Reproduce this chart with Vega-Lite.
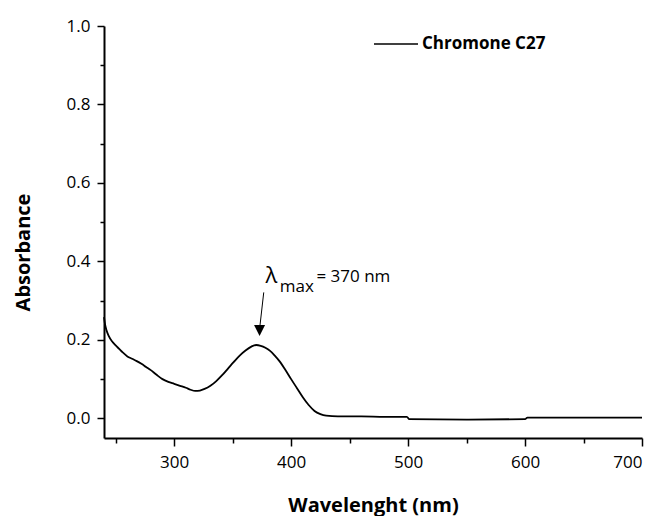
{
  "$schema": "https://vega.github.io/schema/vega-lite/v6.json",
  "width": 538,
  "height": 412,
  "autosize": "none",
  "padding": {"left": 104, "top": 26, "right": 18, "bottom": 78},
  "background": "white",
  "config": {
    "view": {"stroke": null},
    "font": "Open Sans",
    "axis": {
      "grid": false,
      "domainColor": "black",
      "domainWidth": 2,
      "tickColor": "black",
      "tickWidth": 1.5,
      "labelColor": "black",
      "titleColor": "black",
      "labelFont": "Open Sans",
      "titleFont": "Open Sans",
      "labelFontSize": 17,
      "titleFontSize": 20,
      "titleFontWeight": "bold"
    }
  },
  "datasets": {
    "spectrum": [
      {"wavelength": 240, "absorbance": 0.258},
      {"wavelength": 241, "absorbance": 0.238},
      {"wavelength": 242, "absorbance": 0.226},
      {"wavelength": 244, "absorbance": 0.21},
      {"wavelength": 247, "absorbance": 0.196},
      {"wavelength": 250, "absorbance": 0.186},
      {"wavelength": 253, "absorbance": 0.177},
      {"wavelength": 256, "absorbance": 0.168},
      {"wavelength": 260, "absorbance": 0.158},
      {"wavelength": 264, "absorbance": 0.152},
      {"wavelength": 268, "absorbance": 0.146},
      {"wavelength": 272, "absorbance": 0.139},
      {"wavelength": 276, "absorbance": 0.131},
      {"wavelength": 280, "absorbance": 0.123},
      {"wavelength": 285, "absorbance": 0.111},
      {"wavelength": 290, "absorbance": 0.1},
      {"wavelength": 295, "absorbance": 0.093},
      {"wavelength": 300, "absorbance": 0.088},
      {"wavelength": 305, "absorbance": 0.083},
      {"wavelength": 310, "absorbance": 0.078},
      {"wavelength": 314, "absorbance": 0.073},
      {"wavelength": 318, "absorbance": 0.07},
      {"wavelength": 322, "absorbance": 0.071},
      {"wavelength": 326, "absorbance": 0.075},
      {"wavelength": 331, "absorbance": 0.083},
      {"wavelength": 336, "absorbance": 0.095},
      {"wavelength": 341, "absorbance": 0.11},
      {"wavelength": 346, "absorbance": 0.127},
      {"wavelength": 351, "absorbance": 0.144},
      {"wavelength": 356, "absorbance": 0.16},
      {"wavelength": 361, "absorbance": 0.173},
      {"wavelength": 366, "absorbance": 0.183},
      {"wavelength": 370, "absorbance": 0.187},
      {"wavelength": 374, "absorbance": 0.185},
      {"wavelength": 378, "absorbance": 0.18},
      {"wavelength": 382, "absorbance": 0.172},
      {"wavelength": 386, "absorbance": 0.16},
      {"wavelength": 390, "absorbance": 0.146},
      {"wavelength": 395, "absorbance": 0.124},
      {"wavelength": 400, "absorbance": 0.1},
      {"wavelength": 405, "absorbance": 0.077},
      {"wavelength": 410, "absorbance": 0.054},
      {"wavelength": 415, "absorbance": 0.034},
      {"wavelength": 420, "absorbance": 0.019},
      {"wavelength": 425, "absorbance": 0.011},
      {"wavelength": 430, "absorbance": 0.007},
      {"wavelength": 440, "absorbance": 0.005},
      {"wavelength": 460, "absorbance": 0.005},
      {"wavelength": 480, "absorbance": 0.004},
      {"wavelength": 499, "absorbance": 0.004},
      {"wavelength": 501, "absorbance": -0.002},
      {"wavelength": 550, "absorbance": -0.003},
      {"wavelength": 600, "absorbance": -0.002},
      {"wavelength": 602, "absorbance": 0.002},
      {"wavelength": 650, "absorbance": 0.002},
      {"wavelength": 700, "absorbance": 0.002}
    ],
    "peak": [{"wavelength": 370, "absorbance": 0.187}]
  },
  "layer": [
    {
      "data": {"name": "spectrum"},
      "mark": {"type": "line", "interpolate": "monotone", "strokeWidth": 1.8},
      "encoding": {
        "x": {
          "field": "wavelength",
          "type": "quantitative",
          "scale": {"domain": [240, 700], "nice": false, "zero": false},
          "axis": {
            "orient": "bottom",
            "values": [300, 400, 500, 600, 700],
            "tickSize": 8,
            "labelPadding": 8,
            "title": "Wavelenght (nm)",
            "titleY": 57,
            "titleBaseline": "top"
          }
        },
        "y": {
          "field": "absorbance",
          "type": "quantitative",
          "scale": {"domain": [-0.05, 1.0], "nice": false, "zero": false},
          "axis": {
            "orient": "left",
            "values": [0, 0.2, 0.4, 0.6, 0.8, 1.0],
            "format": ".1f",
            "tickSize": 7,
            "labelPadding": 7,
            "title": "Absorbance",
            "titleX": -75,
            "titleY": 226,
            "titleAngle": 270,
            "titleBaseline": "alphabetic"
          }
        },
        "color": {
          "datum": "Chromone C27",
          "type": "nominal",
          "scale": {"range": ["black"]},
          "legend": {
            "orient": "none",
            "legendX": 269,
            "legendY": -5,
            "title": null,
            "symbolType": "stroke",
            "symbolSize": 1936,
            "symbolStrokeWidth": 1.5,
            "labelFont": "Open Sans",
            "labelFontWeight": "bold",
            "labelFontSize": 17,
            "labelColor": "black",
            "labelOffset": 3,
            "padding": 0
          }
        }
      }
    },
    {
      "data": {"name": "peak"},
      "mark": {"type": "point", "opacity": 0},
      "encoding": {
        "x": {
          "field": "wavelength",
          "type": "quantitative",
          "axis": {"orient": "bottom", "values": [250, 350, 450, 550, 650], "tickSize": 5, "labels": false, "domain": false, "title": null}
        },
        "y": {
          "field": "absorbance",
          "type": "quantitative",
          "axis": {"orient": "left", "values": [0.1, 0.3, 0.5, 0.7, 0.9], "tickSize": 4, "labels": false, "domain": false, "title": null}
        }
      }
    },
    {
      "data": {"name": "peak"},
      "mark": {"type": "rule", "color": "black", "strokeWidth": 1, "xOffset": 7.7, "yOffset": -52.6, "x2Offset": 4, "y2Offset": -20},
      "encoding": {
        "x": {"field": "wavelength", "type": "quantitative", "axis": null},
        "y": {"field": "absorbance", "type": "quantitative", "axis": null},
        "x2": {"field": "wavelength"},
        "y2": {"field": "absorbance"}
      }
    },
    {
      "data": {"name": "peak"},
      "mark": {"type": "point", "shape": "M-1,-1L1,-1L0,1Z", "size": 121, "filled": true, "color": "black", "opacity": 1, "xOffset": 3.5, "yOffset": -14.5},
      "encoding": {
        "x": {"field": "wavelength", "type": "quantitative", "axis": null},
        "y": {"field": "absorbance", "type": "quantitative", "axis": null}
      }
    },
    {
      "data": {"name": "peak"},
      "mark": {"type": "text", "text": "λ", "font": "Open Sans", "fontSize": 22, "align": "left", "baseline": "alphabetic", "dx": 9.4, "dy": -61.6, "color": "black"},
      "encoding": {
        "x": {"field": "wavelength", "type": "quantitative", "axis": null},
        "y": {"field": "absorbance", "type": "quantitative", "axis": null}
      }
    },
    {
      "data": {"name": "peak"},
      "mark": {"type": "text", "text": "max", "font": "Open Sans", "fontSize": 17, "align": "left", "baseline": "alphabetic", "dx": 23.7, "dy": -53.2, "color": "black"},
      "encoding": {
        "x": {"field": "wavelength", "type": "quantitative", "axis": null},
        "y": {"field": "absorbance", "type": "quantitative", "axis": null}
      }
    },
    {
      "data": {"name": "peak"},
      "mark": {"type": "text", "text": "= 370 nm", "font": "Open Sans", "fontSize": 17, "align": "left", "baseline": "alphabetic", "dx": 60.4, "dy": -62.6, "color": "black"},
      "encoding": {
        "x": {"field": "wavelength", "type": "quantitative", "axis": null},
        "y": {"field": "absorbance", "type": "quantitative", "axis": null}
      }
    }
  ],
  "resolve": {"axis": {"x": "independent", "y": "independent"}}
}
